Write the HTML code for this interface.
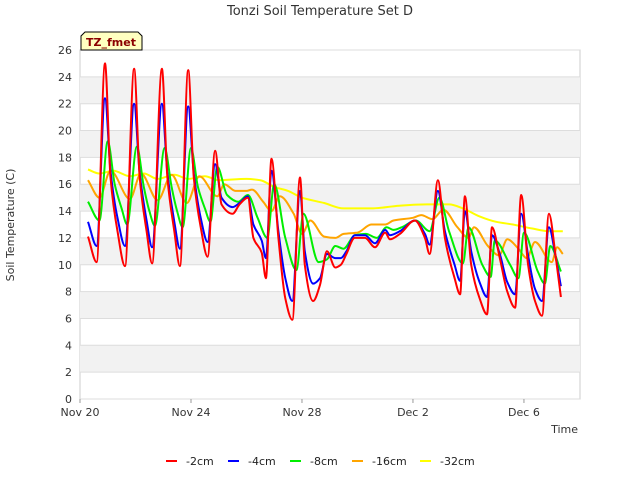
<!DOCTYPE html>
<html><head><meta charset="utf-8"><style>
body{margin:0;background:#fff}
svg{display:block;font-family:"DejaVu Sans","Liberation Sans",sans-serif}
</style></head><body>
<svg id="chart" width="640" height="480" viewBox="0 0 640 480">
<text x="320" y="15" text-anchor="middle" font-size="13" fill="#333">Tonzi Soil Temperature Set D</text>
<g id="plot"></g>
<g id="yticks"></g>
<g id="xticks"></g>
<g id="series"></g>
<text x="14" y="225" transform="rotate(-90 14 225)" text-anchor="middle" font-size="11" fill="#333">Soil Temperature (C)</text>
<text x="578" y="433" text-anchor="end" font-size="11" fill="#333">Time</text>
<g>
<path d="M81,50 L81,36 L85,32 L138,32 L142,36 L142,50 Z" fill="#ffffc0" stroke="#000" stroke-width="1"/>
<text x="111" y="46" text-anchor="middle" font-size="11" font-weight="bold" fill="#8b0000">TZ_fmet</text>
</g>
<g id="legend"></g>
</svg>
<script>
const yTicks=[0,2,4,6,8,10,12,14,16,18,20,22,24,26];
const xTickDays=[0,4,8,12,16];
const xTickLabels=["Nov 20","Nov 24","Nov 28","Dec 2","Dec 6"];
const seriesNames=["-2cm","-4cm","-8cm","-16cm","-32cm"];
const seriesColors=["#ff0000","#0000ff","#00ee00","#ffa500","#ffff00"];
const d2cm=[0.29,0.6,0.9,1.1,1.35,1.62,1.95,2.15,2.4,2.6,2.95,3.15,3.4,3.6,3.9,4.1,4.35,4.6,4.87,5.1,5.5,5.75,6.05,6.25,6.55,6.7,6.9,7.15,7.4,7.65,7.93,8.1,8.4,8.65,8.9,9.2,9.4,9.6,9.9,10.27,10.63,11,11.17,11.53,12.07,12.43,12.6,12.9,13.15,13.5,13.7,13.87,14.1,14.4,14.67,14.85,15.13,15.4,15.68,15.9,16.15,16.4,16.65,16.9,17.15,17.33];
const v2cm=[12.1,10.2,25.0,16.5,12.5,9.9,24.6,16.5,12.5,10.1,24.6,16.5,12.5,9.9,24.5,16.5,12.8,10.6,18.5,14.5,13.8,14.5,15.0,12,10.9,9.0,17.9,12,7.5,5.9,16.5,10,7.3,8.5,11,9.8,10,10.8,12.0,12,11.3,12.4,11.9,12.3,13.3,12,10.8,16.3,12,9,7.8,15.1,10,7.5,6.3,12.8,10.5,8,6.8,15.2,10,7.3,6.2,13.8,10.5,7.6];
const d4cm=d2cm;
const v4cm=[13.2,11.4,22.4,17,13.5,11.4,22.0,16.8,13.3,11.3,22.0,16.8,13.2,11.2,21.8,16.8,13.5,11.7,17.5,15,14.3,14.6,15.1,13,11.8,10.5,17.0,12.5,9,7.3,15.5,11,8.6,9,10.8,10.5,10.5,11,12.2,12.2,11.6,12.6,12.2,12.5,13.3,12.3,11.5,15.5,12.5,10,8.8,14,11,8.7,7.6,12.2,10.8,8.7,7.8,13.8,10.7,8.2,7.3,12.8,10.5,8.4];
const d8cm=[0.29,0.7,1.0,1.25,1.5,1.7,2.05,2.3,2.5,2.7,3.05,3.3,3.5,3.7,4.0,4.25,4.5,4.7,4.95,5.3,5.7,6.05,6.4,6.75,7.0,7.4,7.8,8.05,8.6,8.9,9.2,9.5,9.9,10.3,10.7,11.05,11.3,11.6,12.1,12.6,12.95,13.3,13.8,14.0,14.5,14.8,14.95,15.5,15.8,16.0,16.5,16.75,16.95,17.33];
const v8cm=[14.7,13.3,19.2,16,14.2,13,18.8,15.8,14,12.9,18.7,15.8,14,12.8,18.7,15.8,14.2,13.2,17.3,15.2,14.7,15.2,13.5,12,16,12,9.6,13.8,10.2,10.4,11.4,11.2,12.2,12.3,12.0,12.8,12.6,12.8,13.3,12.5,15.0,12.5,10.1,12.8,10,9.1,11.8,10.0,9.0,12.4,9.5,8.6,11.4,9.5];
const d16cm=[0.29,0.7,1.1,1.8,2.2,2.8,3.3,3.85,4.3,4.95,5.2,5.6,6.0,6.2,6.6,6.9,7.2,7.7,8.0,8.3,8.8,9.2,9.5,10.0,10.5,11.0,11.3,12.0,12.3,12.7,13.1,13.6,14.0,14.2,14.7,15.1,15.4,15.8,16.1,16.4,17.0,17.2,17.4];
const v16cm=[16.3,15.0,17.0,14.9,16.8,14.8,16.7,14.6,16.6,15.1,16.0,15.5,15.5,15.6,14.7,14.0,15.1,13.8,12.3,13.3,12.1,12.0,12.3,12.4,13.0,13.0,13.3,13.5,13.7,13.4,14.1,12.8,12.0,12.8,11.4,10.7,11.9,11.2,10.5,11.7,10.2,11.3,10.8];
const d32cm=[0.29,0.7,1.2,1.8,2.3,2.8,3.4,3.9,4.5,5.0,6.0,6.5,7.0,7.5,8.0,8.8,9.5,10.5,11.5,12.5,13.3,13.8,14.4,15.0,15.6,16.3,16.9,17.4];
const v32cm=[17.1,16.8,17.0,16.6,16.8,16.4,16.7,16.4,16.6,16.3,16.4,16.3,15.8,15.5,15.0,14.6,14.2,14.2,14.4,14.5,14.5,14.2,13.6,13.2,13.0,12.7,12.5,12.5];
const allDays=[d2cm,d4cm,d8cm,d16cm,d32cm];
const allVals=[v2cm,v4cm,v8cm,v16cm,v32cm];

const NS="http://www.w3.org/2000/svg";
const L=80,R=580,T=50,B=399,yMax=26,dayMax=18.02;
const xs=d=>L+d*(R-L)/dayMax;
const ys=v=>B-v*(B-T)/yMax;
function mk(tag,attrs,parent){const e=document.createElementNS(NS,tag);for(const k in attrs)e.setAttribute(k,attrs[k]);parent.appendChild(e);return e;}
function monoPath(X,Y){
  const n=X.length,dx=[],m=[],t=[];
  for(let i=0;i<n-1;i++){dx[i]=X[i+1]-X[i];m[i]=(Y[i+1]-Y[i])/dx[i];}
  t[0]=m[0];t[n-1]=m[n-2];
  for(let i=1;i<n-1;i++){t[i]=(m[i-1]*m[i]<=0)?0:(3*(dx[i-1]+dx[i]))/((2*dx[i]+dx[i-1])/m[i-1]+(dx[i]+2*dx[i-1])/m[i]);}
  let d='M'+X[0].toFixed(1)+','+Y[0].toFixed(1);
  for(let i=0;i<n-1;i++){const h=dx[i]/3;
    d+=' C'+(X[i]+h).toFixed(1)+','+(Y[i]+t[i]*h).toFixed(1)+' '+(X[i+1]-h).toFixed(1)+','+(Y[i+1]-t[i+1]*h).toFixed(1)+' '+X[i+1].toFixed(1)+','+Y[i+1].toFixed(1);}
  return d;
}
const plot=document.getElementById('plot');
mk('rect',{x:L,y:T,width:R-L,height:B-T,fill:'#fff',stroke:'#ccc'},plot);
for(let i=0;i<yTicks.length-1;i++){
  if(i%2===1){const b=mk('rect',{x:L,y:ys(yTicks[i+1]),width:R-L,height:ys(yTicks[i])-ys(yTicks[i+1]),fill:'#f2f2f2'},plot);
  
  }
}
const yg=document.getElementById('yticks');
yTicks.forEach(v=>{
  const l=mk('line',{x1:L,x2:R,y1:ys(v),y2:ys(v),stroke:'#ddd'},plot);
  
  
  const t=mk('text',{x:L-8,y:ys(v)+4,'text-anchor':'end','font-size':11,fill:'#333'},yg);
  t.textContent=v;
  
  
});
const xg=document.getElementById('xticks');
xTickDays.forEach((d,i)=>{
  mk('line',{x1:xs(d),x2:xs(d),y1:B,y2:B+4,stroke:'#999'},xg);
  const t=mk('text',{x:xs(d),y:B+17,'text-anchor':'middle','font-size':11,fill:'#333'},xg);
  t.textContent=xTickLabels[i];
  
  
});
const sg=document.getElementById('series');
for(let s=4;s>=0;s--){
  const X=allDays[s].map(xs),Y=allVals[s].map(ys);
  const p=mk('path',{d:monoPath(X,Y),fill:'none',stroke:seriesColors[s],'stroke-width':2,'stroke-linejoin':'round'},sg);
  
  
}
const lg=document.getElementById('legend');
const lx=[166,228,290,352,420];
seriesNames.forEach((n,i)=>{
  const g=mk('g',{},lg);
  
  
  mk('line',{x1:lx[i],x2:lx[i]+11,y1:461,y2:461,stroke:seriesColors[i],'stroke-width':2},g);
  const t=mk('text',{x:lx[i]+20,y:465,'font-size':11,fill:'#222'},g);
  t.textContent=n;
});
</script>
</body></html>
